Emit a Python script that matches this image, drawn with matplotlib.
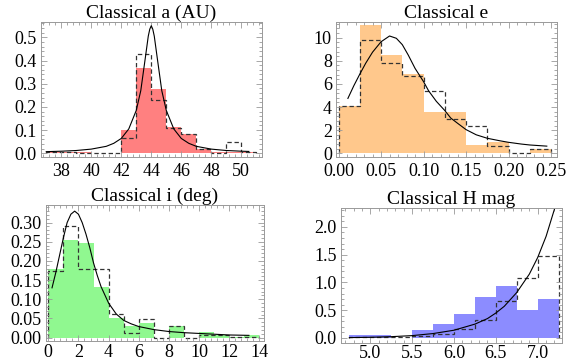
import matplotlib
matplotlib.use("Agg")
import matplotlib.pyplot as plt
from matplotlib.ticker import MultipleLocator, AutoMinorLocator, FormatStrFormatter

plt.rcParams['font.family'] = ['Liberation Serif', 'DejaVu Serif']

# ---- Classical a (AU) ----
a_edges = [37, 38, 39, 40, 41, 42, 43, 44, 45, 46, 47, 48, 49, 50, 51]
a_fill = [0.007, 0.007, 0.005, 0.0, 0.0, 0.10, 0.366, 0.277, 0.112, 0.082, 0.017, 0.005, 0.005, 0.007]
a_dash = [0.005, 0.005, 0.003, 0.0, 0.0, 0.065, 0.43, 0.23, 0.11, 0.082, 0.017, 0.0, 0.047, 0.005]
a_curve_x = [37.0, 38.0, 39.0, 40.0, 41.0, 41.5, 42.0, 42.5, 43.0, 43.3, 43.6, 43.8, 43.9, 44.0,
             44.1, 44.2, 44.4, 44.7, 45.0, 45.5, 46.0, 46.5, 47.0, 48.0, 49.0, 50.0, 50.5]
a_curve_y = [0.007, 0.009, 0.012, 0.018, 0.03, 0.043, 0.064, 0.105, 0.185, 0.27, 0.41, 0.505, 0.535, 0.55,
             0.535, 0.505, 0.41, 0.27, 0.185, 0.105, 0.064, 0.043, 0.03, 0.018, 0.012, 0.009, 0.008]

# ---- Classical e ----
e_edges = [0.0, 0.025, 0.05, 0.075, 0.1, 0.125, 0.15, 0.175, 0.2, 0.225, 0.25]
e_fill = [4.1, 11.1, 8.5, 6.85, 3.6, 3.6, 0.72, 1.0, 0.0, 0.37]
e_dash = [4.05, 9.8, 7.85, 6.7, 5.4, 3.0, 2.4, 0.66, 0.0, 0.33]
e_curve_x = [0.011, 0.018, 0.025, 0.032, 0.04, 0.05, 0.06, 0.068, 0.075, 0.082, 0.09, 0.1, 0.106,
             0.115, 0.125, 0.132, 0.14, 0.15, 0.162, 0.175, 0.19, 0.2, 0.215, 0.225, 0.245]
e_curve_y = [4.75, 5.85, 6.85, 7.8, 8.75, 9.65, 10.15, 9.95, 9.4, 8.5, 7.35, 6.2, 5.4,
             4.5, 3.7, 3.05, 2.6, 2.05, 1.6, 1.3, 1.08, 0.95, 0.8, 0.72, 0.62]

# ---- Classical i (deg) ----
i_edges = [0, 1, 2, 3, 4, 5, 6, 7, 8, 9, 10, 11, 12, 13, 14]
i_fill = [0.18, 0.256, 0.248, 0.132, 0.05, 0.03, 0.039, 0.0, 0.03, 0.0, 0.015, 0.008, 0.003, 0.006]
i_dash = [0.175, 0.29, 0.178, 0.178, 0.061, 0.013, 0.048, 0.0, 0.03, 0.0, 0.008, 0.006, 0.002, 0.002]
i_curve_x = [0.25, 0.5, 0.75, 1.0, 1.25, 1.5, 1.75, 2.0, 2.25, 2.5, 2.75, 3.0, 3.25, 3.5, 4.0,
             4.5, 5.0, 5.5, 6.0, 7.0, 8.0, 9.0, 10.0, 11.0, 12.0, 13.3]
i_curve_y = [0.13, 0.17, 0.215, 0.26, 0.30, 0.322, 0.33, 0.322, 0.30, 0.27, 0.235, 0.195, 0.162, 0.133, 0.09,
             0.062, 0.045, 0.036, 0.029, 0.021, 0.016, 0.013, 0.011, 0.009, 0.007, 0.006]

# ---- Classical H mag ----
h_edges = [4.75, 5.0, 5.25, 5.5, 5.75, 6.0, 6.25, 6.5, 6.75, 7.0, 7.25]
h_fill = [0.05, 0.05, 0.0, 0.15, 0.25, 0.44, 0.73, 0.93, 0.51, 0.70]
h_dash = [0.02, 0.02, 0.01, 0.03, 0.08, 0.17, 0.33, 0.67, 1.08, 1.48]
h_curve_x = [4.75, 5.0, 5.25, 5.5, 5.75, 6.0, 6.25, 6.4, 6.5, 6.6, 6.75, 6.9, 7.0, 7.1, 7.2]
h_curve_y = [0.007, 0.013, 0.024, 0.043, 0.08, 0.14, 0.25, 0.35, 0.45, 0.57, 0.82, 1.15, 1.45, 1.83, 2.32]

W, H = 581, 364
fig = plt.figure(figsize=(W / 100, H / 100), dpi=100)

frame_col = "#999999"


def panel(box, edges, fill, dash, cx, cy, color, title, xlim, ylim, xmaj, ymaj, xfmt, yfmt, xpad):
    l, t, r, b = box
    ax = fig.add_axes([l / W, 1 - b / H, (r - l) / W, (b - t) / H])
    ax.stairs(fill, edges, fill=True, color=color, lw=0)
    ax.stairs(dash, edges, color="#333333", lw=0.9, linestyle=(0, (3.5, 2.2)), baseline=0)
    ax.plot(cx, cy, color="black", lw=0.8)
    ax.set_xlim(*xlim)
    ax.set_ylim(*ylim)
    ax.xaxis.set_major_locator(MultipleLocator(xmaj))
    ax.yaxis.set_major_locator(MultipleLocator(ymaj))
    ax.xaxis.set_minor_locator(AutoMinorLocator(5))
    ax.yaxis.set_minor_locator(AutoMinorLocator(5))
    ax.xaxis.set_major_formatter(FormatStrFormatter(xfmt))
    ax.yaxis.set_major_formatter(FormatStrFormatter(yfmt))
    ax.tick_params(which="both", direction="in", top=True, right=True, color=frame_col,
                   width=0.6, labelsize=13)
    ax.tick_params(axis="x", which="both", pad=xpad)
    ax.tick_params(axis="y", which="both", pad=3)
    ax.tick_params(which="major", length=4)
    ax.tick_params(which="minor", length=2)
    for s in ax.spines.values():
        s.set_color(frame_col)
        s.set_linewidth(0.7)
    ax.set_title(title, fontsize=14, pad=2)
    return ax


panel((41, 22, 262, 157), a_edges, a_fill, a_dash, a_curve_x, a_curve_y, "#ff8080",
      "Classical a (AU)", (36.65, 51.38), (-0.016, 0.566), 2, 0.1, "%d", "%.1f", 4.5)
panel((336, 22, 557, 157), e_edges, e_fill, e_dash, e_curve_x, e_curve_y, "#ffc88c",
      "Classical e", (-0.003, 0.257), (-0.32, 11.36), 0.05, 2, "%.2f", "%d", 4.5)
panel((46, 205, 264, 341), i_edges, i_fill, i_dash, i_curve_x, i_curve_y, "#90f890",
      "Classical i (deg)", (-0.15, 14.3), (-0.0087, 0.346), 2, 0.05, "%d", "%.2f", 2.5)
panel((341, 208, 562, 343), h_edges, h_fill, h_dash, h_curve_x, h_curve_y, "#8c8cff",
      "Classical H mag", (4.65, 7.29), (-0.09, 2.34), 0.5, 0.5, "%.1f", "%.1f", 1.5)

fig.savefig("out.png", dpi=100)
